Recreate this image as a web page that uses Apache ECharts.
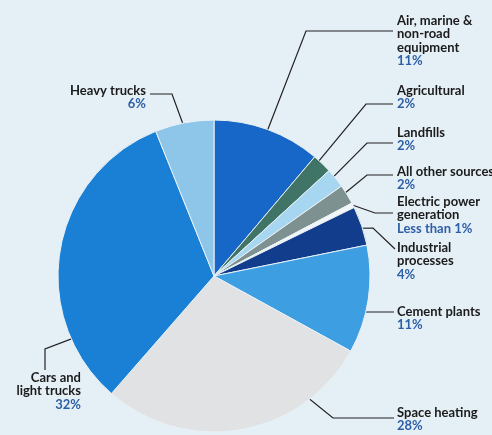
<!DOCTYPE html>
<html>
<head>
<meta charset="utf-8">
<script src="https://cdn.jsdelivr.net/npm/echarts@6/dist/echarts.min.js"></script>
<style>
html,body{margin:0;padding:0;background:#e5eff6;}
#c{width:492px;height:435px;}
</style>
</head>
<body>
<div id="c"></div>
<script>
// ---- data ----
const categories = ['Air, marine & non-road equipment','Agricultural','Landfills','All other sources','Electric power generation','Industrial processes','Cement plants','Space heating','Cars and light trucks','Heavy trucks'];
const values = [11, 2, 2, 2, 0.5, 4, 11, 28, 32, 6];
const labelNames = ['Air, marine &\nnon-road\nequipment','Agricultural','Landfills','All other sources','Electric power\ngeneration','Industrial\nprocesses','Cement plants','Space heating','Cars and\nlight trucks','Heavy trucks'];
const pctLabels = ['11%','2%','2%','2%','Less than 1%','4%','11%','28%','32%','6%'];

// ---- styles / layout ----
const colors = ['#1767c9','#3f7466','#a6d6f0','#7d9190','#f2f6f8','#113d8c','#3d9fe2','#e0e2e3','#1a80d6','#8ec6ea'];
const CX = 214, CY = 276, R = 156;
// label placement: [x, yTop, align], leader elbow & end, anchor (fraction along slice, radius fraction)
const labelPos = [
  {x:397, y:14,  align:'left',  elbow:[306,31],  end:[393,31],  anc:[0.5,0.93]},
  {x:397, y:84,  align:'left',  elbow:[366,104], end:[393,104], anc:[0.3,0.99]},
  {x:397, y:126, align:'left',  elbow:[367,143], end:[393,143], anc:[0.4,0.97]},
  {x:397, y:165, align:'left',  elbow:[367,175], end:[393,175], anc:[0.4,0.98]},
  {x:397, y:195, align:'left',  elbow:[375,213], end:[393,213], anc:[0.5,1.0]},
  {x:397, y:241, align:'left',  elbow:[373,228], end:[395,249], anc:[0.4,0.88]},
  {x:397, y:305, align:'left',  elbow:[370,312], end:[394,312], anc:[0.66,0.89]},
  {x:397, y:406, align:'left',  elbow:[333,418], end:[394,418], anc:[0.25,0.86]},
  {x:81,  y:371, align:'right', elbow:[45,349],  end:[45,370],  anc:[0.21,0.85]},
  {x:146, y:84,  align:'right', elbow:[172,94],  end:[150,94],  anc:[0.53,0.87]}
];

const total = values.reduce((a,b)=>a+b,0);
const cum = [];
values.reduce((a,v,i)=>{cum[i]=a;return a+v;},0);
function anchorPoint(i){
  const p = labelPos[i];
  const ang = (cum[i] + p.anc[0]*values[i]) / total * 2*Math.PI; // clockwise from top
  const r = R * p.anc[1];
  return [CX + r*Math.sin(ang), CY - r*Math.cos(ang)];
}

const data = categories.map((c,i)=>{
  const al = labelPos[i].align;
  const lines = labelNames[i].split('\n').map(l=>'{n|'+l+'}').join('\n');
  return {
    name: c,
    value: values[i],
    itemStyle: {color: colors[i]},
    label: {
      formatter: lines + '\n{p|' + pctLabels[i] + '}',
      align: al,
      rich: {
        n: {fontFamily:'Lato', fontWeight:'bold', fontSize:13, color:'#1b1b1b', lineHeight:13.5, align: al},
        p: {fontFamily:'Lato', fontWeight:'bold', fontSize:13, color:'#2d5fa6', lineHeight:13.5, align: al}
      }
    }
  };
});

const chart = echarts.init(document.getElementById('c'), null, {renderer:'canvas'});
chart.setOption({
  backgroundColor: '#e5eff6',
  animation: false,
  series: [{
    type: 'pie',
    center: [CX, CY],
    radius: [0, R],
    startAngle: 90,
    clockwise: true,
    avoidLabelOverlap: false,
    itemStyle: {borderColor: '#e9f1f6', borderWidth: 1},
    label: {show: true, position: 'outside'},
    labelLine: {show: true, length: 10, length2: 10, lineStyle: {color: '#222', width: 1.2}},
    emphasis: {disabled: true},
    labelLayout: function(params){
      const i = params.dataIndex;
      const p = labelPos[i];
      return {
        x: p.x, y: p.y, align: p.align, verticalAlign: 'top',
        labelLinePoints: [anchorPoint(i), p.elbow, p.end]
      };
    },
    data: data
  }]
});
</script>
</body>
</html>
